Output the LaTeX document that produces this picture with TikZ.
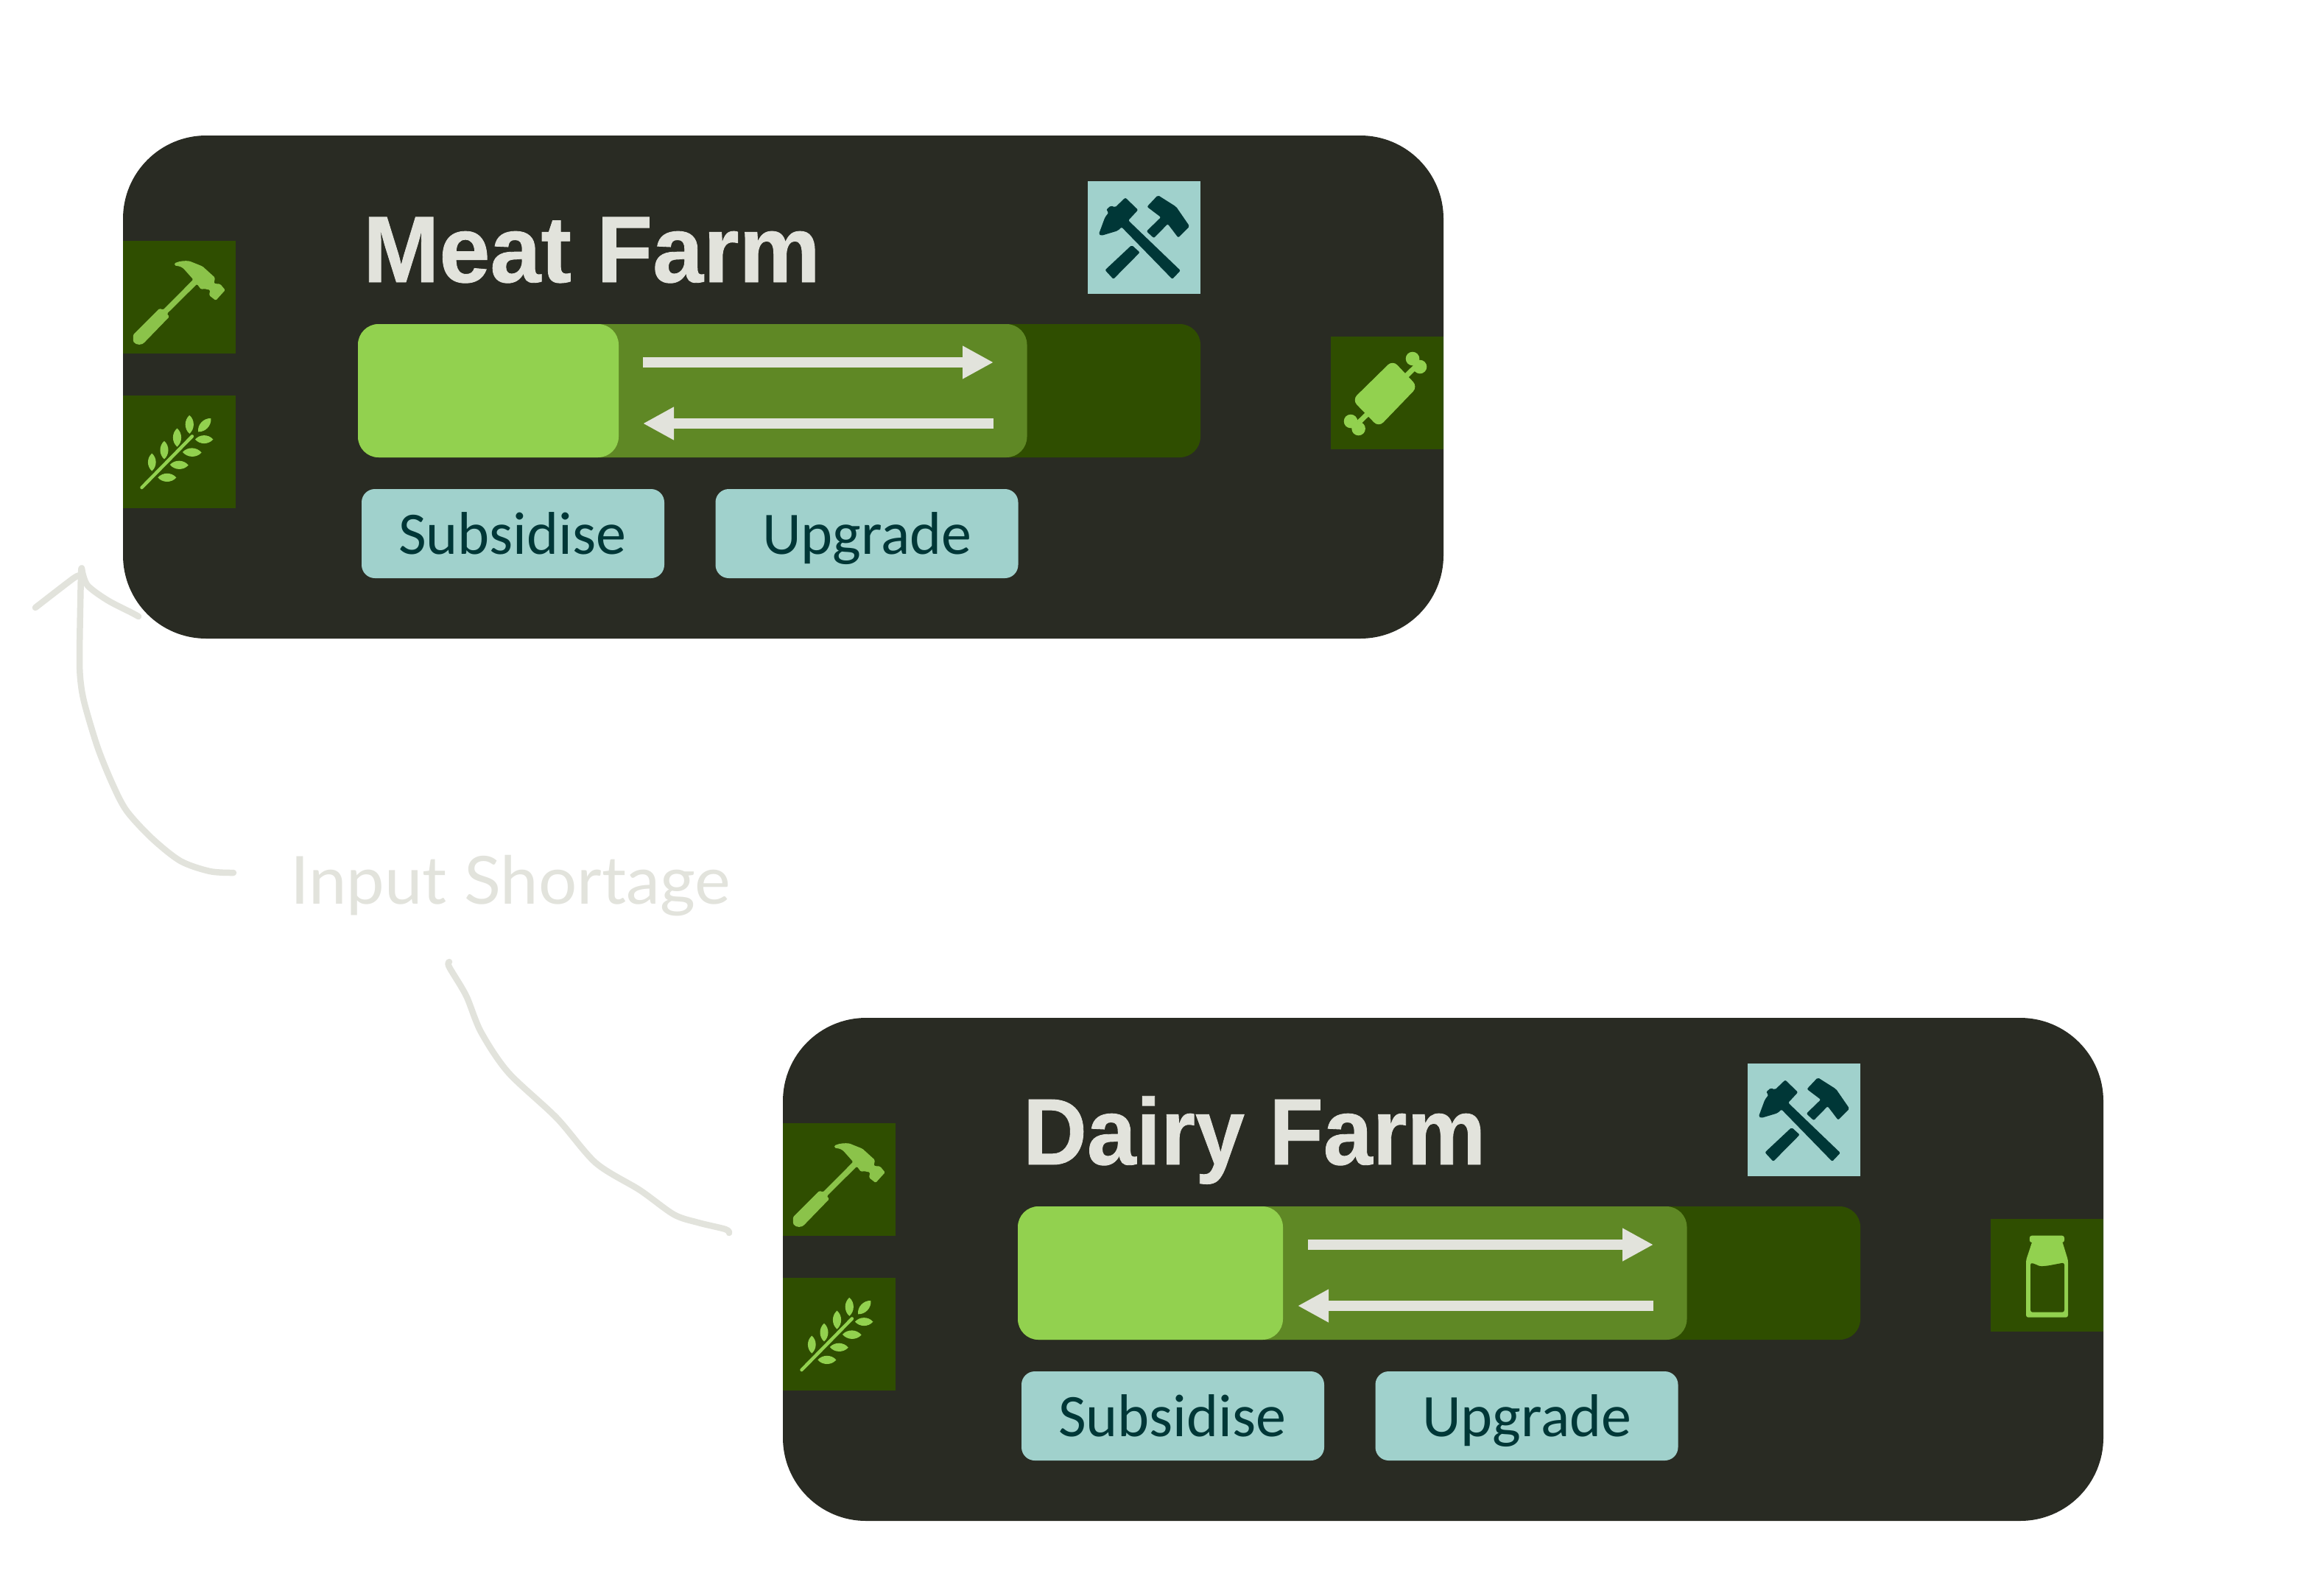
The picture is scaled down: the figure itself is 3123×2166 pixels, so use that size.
\documentclass[tikz,border=0pt]{standalone}
\usepackage{fontspec}
\usepackage{graphicx}
\usetikzlibrary{arrows.meta}
\setmainfont{Liberation Sans}
\newfontfamily\titlef[FakeBold=0.7]{Liberation Sans Bold}
\newfontfamily\btnf{Carlito}
\newfontfamily\lightf{Lato}
\definecolor{panelc}{HTML}{292B23}
\definecolor{darkg}{HTML}{2F4E00}
\definecolor{midg}{HTML}{5F8825}
\definecolor{lightg}{HTML}{92D14F}
\definecolor{hamg}{HTML}{8BC34A}
\definecolor{teal}{HTML}{A0D1CC}
\definecolor{dteal}{HTML}{003737}
\definecolor{cream}{HTML}{E2E3DC}
\tikzset{
  x=1pt,y=-1pt,
  sq/.style={rectangle,inner sep=0pt,outer sep=0pt,minimum size=153pt},
  outbox/.style={sq,fill=darkg},
  toolbox/.style={sq,fill=teal},
  panel/.style={rectangle,inner sep=0pt,outer sep=0pt,fill=panelc,rounded corners=113pt,minimum width=1793pt,minimum height=683pt},
  barbg/.style={rectangle,inner sep=0pt,outer sep=0pt,fill=#1,rounded corners=28pt,minimum height=181pt},
  btn/.style={rectangle,inner sep=0pt,outer sep=0pt,fill=teal,rounded corners=18pt,minimum width=411pt,minimum height=121pt},
  btntext/.style={inner sep=0pt,outer sep=0pt,anchor=base west,text=dteal,font=\btnf\fontsize{82}{82}\selectfont},
  titletext/.style={inner sep=0pt,outer sep=0pt,anchor=base west,text=cream,font=\titlef\fontsize{128}{128}\selectfont},
  flow/.style={draw=cream,line width=14pt,-{Triangle[length=42pt,width=42pt]}},
  sketch/.style={draw=cream,line width=8.5pt,line cap=round,line join=round}
}
\newcommand\leafshape[2]{\fill[lightg] #1 to[bend left=50] #2 to[bend left=50] #1;}
\newcommand\hammericon{%
  \fill[hamg,rounded corners=1.5pt] (13.8,127.5) -- (49.5,91.8) -- (54.6,93.6) -- (95.4,52.5) -- (82.7,38.2)
   .. controls (78,34) and (72,34) .. (69.9,32.9) -- (69.9,30.4) .. controls (78,27) and (85,27) .. (90.3,27.5)
   -- (108,34.6) -- (125,50) -- (123.5,58) -- (132,58.6) -- (138.8,66.8) -- (126,81) -- (117,74)
   -- (118.4,66.8) -- (110,65) -- (106,66) -- (100.5,58.6) -- (59.7,99) -- (63,103) -- (30.6,136.4)
   .. controls (26,142) and (18,142) .. (13.8,136.4) -- cycle;}
\newcommand\wheaticon{%
  \draw[lightg,line width=4.5pt,line cap=round] (25.5,125) -- (93.9,55.4);
  \leafshape{(39.3,102.5)}{(39.3,78.6)}
  \leafshape{(56,86.4)}{(56,61.8)}
  \leafshape{(73.5,69.6)}{(73.5,44.6)}
  \leafshape{(90.3,51.8)}{(90.3,26.8)}
  \leafshape{(102,49.3)}{(119.4,31)}
  \leafshape{(122.4,59.6)}{(98,59.6)}
  \leafshape{(106.6,77.5)}{(81,76.8)}
  \leafshape{(88.8,94.6)}{(63.8,94)}
  \leafshape{(72.4,111.4)}{(47.4,111.4)}}
\newcommand\toolsicon{%
  \begin{scope}[fill=dteal,rounded corners=2pt]
  \fill (14.8,72.3) -- (23.4,49) -- (28.6,42.3) -- (25,39) -- (31.4,33) -- (37,35.7) -- (51,22.3) -- (68.3,39)
    -- (55,53.3) -- (125.9,121.3) -- (114.8,133) -- (45.9,62.3) -- (40.7,67.3) -- (18.3,74) -- cycle;
  \fill (95.2,19) -- (120,34.7) -- (138.3,61.3) -- (122.8,76.7) -- (108.6,58) -- (89.7,77.3) -- (79.7,68)
    -- (99.3,49) -- (80.4,34.7) -- cycle;
  \fill (59.7,86.7) -- (70.7,96.7) -- (34.8,133) -- (23.4,120.7) -- cycle;
  \end{scope}}
\newcommand\meaticon{%
  \draw[lightg,line width=7pt] (37.6,117) -- (115,41);
  \fill[lightg] (27,115) circle (9.3) (37.6,125) circle (9.3) (111,30) circle (9.3) (121,41) circle (9.3);
  \fill[lightg,rounded corners=9pt] (84,32) -- (118,68) -- (65,123) -- (29,86) -- cycle;}
\newcommand\milkicon{%
  \fill[lightg,rounded corners=3pt] (52.8,22.7) rectangle (100,32);
  \fill[lightg,rounded corners=3pt] (56.6,30) -- (48,56) -- (48,133.7) -- (105,133.7) -- (105,56) -- (97,30) -- cycle;
  \fill[darkg,rounded corners=3pt] (54,59.3) -- (62,62) .. controls (68,65) and (72,64) .. (78,63.5) -- (100,59.3) -- (100,126.7) -- (54,126.7) -- cycle;}
% #1 prefix, #2 shift, #3 title, #4 title x-scale, #5 title x, #6 light bar width, #7 arrow start x, #8 output icon
\newcommand\farm[8]{%
\begin{scope}[shift={#2}]
  \node[panel] (#1panel) at (1063.5,525.5) {};
  \node[outbox] (#1hammerbox) at (243.5,403.5) {};
  \node[outbox] (#1wheatbox) at (243.5,613.5) {};
  \node[outbox] (#1outbox) at (1883.5,533.5) {};
  \node[toolbox] (#1toolbox) at (1553.5,322.5) {};
  \node[titletext] (#1title) at (#5,383) {\scalebox{#4}[1]{#3}};
  \node[barbg=darkg,minimum width=1144pt] (#1bar) at (1058,530.5) {};
  \node[barbg=midg,minimum width=908pt] (#1mid) at (940.5,530.5) {};
  \node[barbg=lightg,minimum width=#6pt,anchor=west] (#1light) at (486,530.5) {};
  \coordinate (#1aA) at (#7,492);
  \coordinate (#1aB) at (1349,492);
  \coordinate (#1bA) at (1349,575);
  \coordinate (#1bB) at (1746-#7,575);
  \draw[flow] (#1aA) -- (#1aB);
  \draw[flow] (#1bA) -- (#1bB);
  \node[btn] (#1sub) at (696.5,724.5) {};
  \node[btn] (#1upg) at (1177,724.5) {};
  \node[btntext] at (541,752) {Subsidise};
  \node[btntext] at (1035,752) {Upgrade};
  \begin{scope}[shift={(167,327)}]\hammericon\end{scope}
  \begin{scope}[shift={(167,537)}]\wheaticon\end{scope}
  \begin{scope}[shift={(1477,246)}]\toolsicon\end{scope}
  \begin{scope}[shift={(1807,457)}]#8\end{scope}
\end{scope}}
\begin{document}
\begin{tikzpicture}
\useasboundingbox (0,0) rectangle (3123,2166);
\fill[white] (0,0) rectangle (3123,2166);
\farm{m}{(0,0)}{Meat Farm}{0.97}{493}{354}{873}{\meaticon}
\farm{d}{(896,1198)}{Dairy Farm}{0.94}{493}{360}{880}{\milkicon}
\node[inner sep=0pt,outer sep=0pt,anchor=base west,text=cream,font=\lightf\fontsize{90}{90}\selectfont] (shortage) at (394,1227) {\scalebox{1.025}[1]{Input Shortage}};
% hand-drawn arrow to the Meat Farm
\coordinate (s1start) at (317,1185);
\coordinate (s1tip) at (111.5,775);
\draw[sketch] plot[smooth,tension=0.5] coordinates {(s1start) (285,1183) (245,1169) (206,1138) (172,1101) (153,1065) (133,1016) (116,960) (110,930) (108,893) (110,780) (s1tip)};
\draw[sketch] plot[smooth,tension=0.4] coordinates {(48,825) (100,785) (110,781)};
\draw[sketch] plot[smooth,tension=0.5] coordinates {(s1tip) (119,795) (146,815) (179,832) (188,837)};
% hand-drawn line to the Dairy Farm
\coordinate (s2start) at (610,1306);
\coordinate (s2end) at (990,1674);
\draw[sketch] plot[smooth,tension=0.5] coordinates {(s2start) (610,1313) (633,1352) (653,1401) (690,1456) (756,1518) (809,1579) (869,1616) (915,1649) (948,1660) (985,1669) (s2end)};
\end{tikzpicture}
\end{document}
